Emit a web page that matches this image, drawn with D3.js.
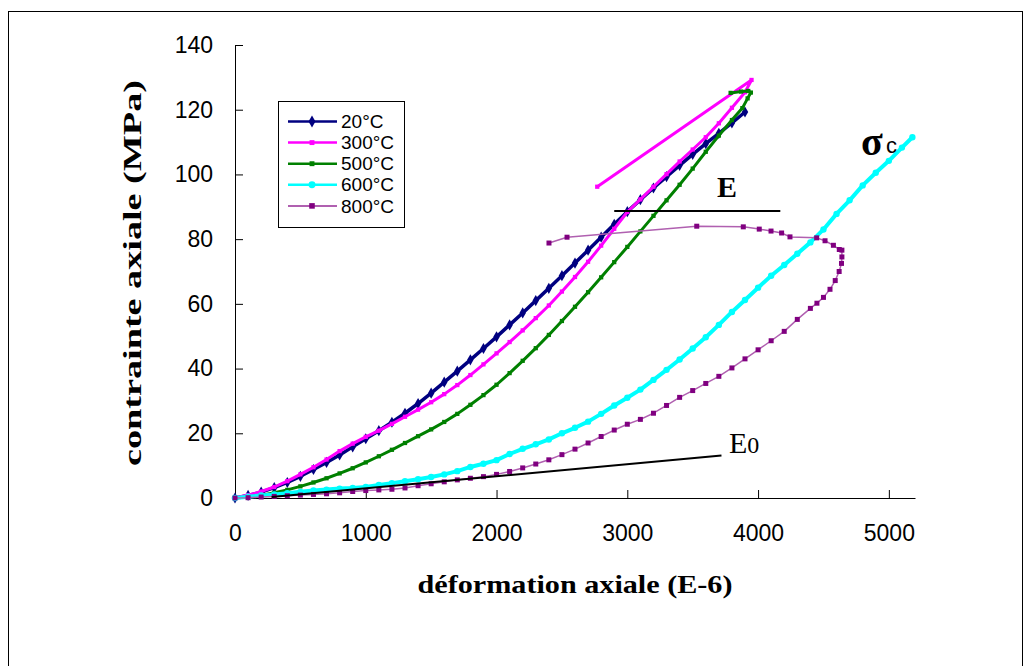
<!DOCTYPE html>
<html>
<head>
<meta http-equiv="Content-Type" content="text/html;charset=utf-8">
<script type="text/javascript" src="https://cdn.jsdelivr.net/npm/d3@7"></script>
<style>
body { margin: 0; background: #fff; }
</style>
</head>
<body>
<div id="chart"></div>
<script type="text/javascript">

// [strain (E-6), stress (MPa)]
var s20 = [[0,0],[100,0.8],[200,1.8],[300,3.2],[400,4.8],[500,6.7],[600,8.8],[700,11],[800,13.3],[900,15.8],
  [1000,18.3],[1100,20.8],[1200,23.4],[1300,26.2],[1400,29.2],[1500,32.4],[1600,35.8],[1700,39.2],[1800,42.7],[1900,46.2],
  [2000,49.8],[2100,53.5],[2200,57.2],[2300,61],[2400,64.8],[2500,68.7],[2600,72.6],[2700,76.6],[2800,80.6],[2900,84.6],
  [3000,88.5],[3100,92.2],[3200,95.8],[3300,99.3],[3400,102.8],[3500,106.2],[3600,109.5],[3700,112.7],[3800,115.9],[3900,119.3]];

var s300 = [[0,0],[100,0.9],[200,2],[300,3.4],[400,5.2],[500,7.3],[600,9.5],[700,11.9],[800,14.5],[900,16.8],
  [1000,18.9],[1100,20.8],[1200,22.9],[1300,25.1],[1400,27.3],[1500,29.6],[1600,32.1],[1700,34.9],[1800,38],[1900,41.3],
  [2000,44.7],[2100,48.2],[2200,51.8],[2300,55.6],[2400,59.5],[2500,63.8],[2600,68.3],[2700,73],[2800,78],[2900,83.2],
  [3000,88.4],[3100,92.3],[3200,96.2],[3300,100.1],[3400,104],[3500,107.7],[3600,111.5],[3700,115.8],[3800,120.6],[3900,125.4],
  [3950,129.2],[2770,96.2]];

var s500 = [[0,0],[100,0.3],[200,0.8],[300,1.6],[400,2.5],[500,3.6],[600,4.8],[700,6.1],[800,7.6],[900,9.2],
  [1000,11],[1100,12.9],[1200,14.9],[1300,17],[1400,19.1],[1500,21.2],[1600,23.5],[1700,26],[1800,28.8],[1900,31.8],
  [2000,35],[2100,38.6],[2200,42.4],[2300,46.3],[2400,50.4],[2500,54.7],[2600,59.1],[2700,63.6],[2800,68.2],[2900,72.9],
  [3000,77.6],[3100,82.4],[3200,87.2],[3300,92],[3400,96.8],[3500,101.8],[3600,107],[3700,112],[3800,116.8],[3880,120.5],
  [3920,123.5],[3945,125.3],[3925,125.8],[3870,125.6],[3790,125.2]];

var s600 = [[0,0],[100,0.4],[200,0.8],[300,1.1],[400,1.5],[500,1.9],[600,2.3],[700,2.6],[800,2.9],[900,3.1],
  [1000,3.4],[1100,4],[1200,4.6],[1300,5.2],[1400,5.8],[1500,6.5],[1600,7.3],[1700,8.3],[1800,9.6],[1900,10.6],
  [2000,11.7],[2100,13.6],[2200,15.2],[2300,16.6],[2400,18.1],[2500,20],[2600,21.7],[2700,23.6],[2800,26],[2900,28.6],
  [3000,31],[3100,33.5],[3200,36.5],[3300,39.6],[3400,42.8],[3500,46.2],[3600,49.7],[3700,53.5],[3800,57.5],[3900,61.2],
  [4000,65],[4100,68.7],[4200,72],[4300,75.5],[4400,79],[4500,83],[4600,87.8],[4700,92],[4800,96.6],[4900,100.5],
  [5000,104.2],[5100,108.3],[5180,111.5]];

var s800 = [[0,0],[100,0.1],[200,0.3],[300,0.5],[400,0.7],[500,0.9],[600,1.1],[700,1.3],[800,1.6],[900,2],
  [1000,2.3],[1100,2.5],[1200,2.7],[1300,3.1],[1400,3.8],[1500,4.4],[1600,5],[1700,5.6],[1800,6.1],[1900,6.6],
  [2000,7.3],[2100,8.2],[2200,9.3],[2300,10.5],[2400,11.8],[2500,13.4],[2600,15.1],[2700,17],[2800,19],[2900,21],
  [3000,22.8],[3100,24.3],[3200,26.2],[3300,28.6],[3400,31.1],[3500,33.2],[3600,35.4],[3700,37.6],[3800,40.2],[3900,43],
  [4000,45.8],[4100,48.6],[4200,51.5],[4300,55.2],[4400,58.6],[4450,60.2],[4500,62],[4550,64.5],[4590,67.2],[4620,70],
  [4638,72.5],[4641,74.5],[4641,76.6],[4621,76.8],[4576,78.1],[4512,79.5],[4448,80.4],[4244,80.7],[4180,81.9],[4099,82.5],
  [4009,83.1],[3887,83.8],[3531,84],[2539,80.6],[2401,78.8]];

var lineE = [[2900,88.7],[4170,88.7]];
var lineE0 = [[280,0.3],[3720,13.1]];

var seriesNames = ["20°C","300°C","500°C","600°C","800°C"];
var xTicks = [0,1000,2000,3000,4000,5000];
var yTicks = [0,20,40,60,80,100,120,140];

var W = 1031, H = 666;
var serif = "'Times New Roman', 'Liberation Serif', Times, serif";
var sans = "Arial, 'Liberation Sans', sans-serif";

var svg = d3.select("#chart").append("svg")
    .attr("width", W)
    .attr("height", H);

// outer frame
svg.append("rect")
    .attr("x", 8.5).attr("y", 11.5)
    .attr("width", 1014).attr("height", 700)
    .attr("fill", "none").attr("stroke", "#000").attr("stroke-width", 1);

var x = d3.scaleLinear().domain([0, 5200]).range([235, 915]);
var y = d3.scaleLinear().domain([0, 140]).range([498, 45]);

var xAxis = d3.axisBottom(x).tickValues(xTicks).tickFormat(d3.format("d"))
    .tickSizeInner(-8).tickSizeOuter(0).tickPadding(27);
var yAxis = d3.axisLeft(y).tickValues(yTicks).tickFormat(d3.format("d"))
    .tickSizeInner(-8).tickSizeOuter(0).tickPadding(22);

var gx = svg.append("g").attr("transform", "translate(0,498)").call(xAxis);
var gy = svg.append("g").attr("transform", "translate(235,0)").call(yAxis);
[gx, gy].forEach(function (g) {
  g.attr("font-family", sans).attr("font-size", 23);
  g.selectAll("path, line").attr("stroke", "#000");
  g.selectAll("text").attr("fill", "#000");
});

// axis titles
svg.append("text")
    .attr("x", 575).attr("y", 593)
    .attr("text-anchor", "middle")
    .attr("font-family", serif)
    .attr("font-weight", "bold").attr("font-size", 25)
    .attr("textLength", 315).attr("lengthAdjust", "spacingAndGlyphs")
    .text("déformation axiale (E-6)");

svg.append("text")
    .attr("transform", "translate(141,273) rotate(-90)")
    .attr("text-anchor", "middle")
    .attr("font-family", serif)
    .attr("font-weight", "bold").attr("font-size", 25)
    .attr("textLength", 386).attr("lengthAdjust", "spacingAndGlyphs")
    .text("contrainte axiale (MPa)");

var styles = [
  {data: s20,  line: "#000080", mark: "#000080", width: 3.5, sym: d3.symbolDiamond, size: 36},
  {data: s300, line: "#ff00ff", mark: "#ff00ff", width: 3,   sym: d3.symbolSquare,  size: 18},
  {data: s500, line: "#008000", mark: "#008000", width: 3,   sym: d3.symbolSquare,  size: 18},
  {data: s600, line: "#00ffff", mark: "#00ffff", width: 4,   sym: d3.symbolCircle,  size: 32},
  {data: s800, line: "#b060b0", mark: "#800080", width: 1.5, sym: d3.symbolSquare,  size: 25}
];

var line = d3.line()
    .x(function (d) { return x(d[0]); })
    .y(function (d) { return y(d[1]); });

styles.forEach(function (s) {
  var g = svg.append("g");
  g.append("path")
      .attr("d", line(s.data))
      .attr("fill", "none")
      .attr("stroke", s.line)
      .attr("stroke-width", s.width)
      .attr("stroke-linejoin", "round");
  g.selectAll("path.pt")
      .data(s.data)
      .enter().append("path")
      .attr("class", "pt")
      .attr("d", d3.symbol().type(s.sym).size(s.size))
      .attr("transform", function (d) { return "translate(" + x(d[0]) + "," + y(d[1]) + ")"; })
      .attr("fill", s.mark);
});

// E and E0 reference lines
[lineE, lineE0].forEach(function (l) {
  svg.append("path")
      .attr("d", line(l))
      .attr("fill", "none")
      .attr("stroke", "#000")
      .attr("stroke-width", 2);
});

svg.append("text")
    .attr("x", 727).attr("y", 197)
    .attr("text-anchor", "middle")
    .attr("font-family", serif)
    .attr("font-weight", "bold").attr("font-size", 30)
    .text("E");

var e0 = svg.append("text")
    .attr("x", 729).attr("y", 453)
    .attr("font-family", serif)
    .attr("font-size", 30);
e0.append("tspan").text("E");
e0.append("tspan").attr("font-size", 24).text("0");

svg.append("text")
    .attr("x", 861).attr("y", 155)
    .attr("font-family", serif)
    .attr("font-weight", "bold").attr("font-size", 40)
    .text("σ");
svg.append("text")
    .attr("x", 886).attr("y", 153)
    .attr("font-family", sans)
    .attr("font-size", 22)
    .text("c");

// legend
var leg = svg.append("g");
leg.append("rect")
    .attr("x", 278.5).attr("y", 101.5)
    .attr("width", 126).attr("height", 126)
    .attr("fill", "#fff").attr("stroke", "#000").attr("stroke-width", 1);

styles.forEach(function (s, i) {
  var ly = 121.5 + i * 21.1;
  leg.append("line")
      .attr("x1", 288).attr("x2", 337)
      .attr("y1", ly).attr("y2", ly)
      .attr("stroke", s.line).attr("stroke-width", i == 4 ? 2 : 2.5);
  leg.append("path")
      .attr("d", d3.symbol().type(s.sym).size(s.size + 6))
      .attr("transform", "translate(312," + ly + ")")
      .attr("fill", s.mark);
  leg.append("text")
      .attr("x", 341).attr("y", ly)
      .attr("dy", "0.35em")
      .attr("font-family", sans)
      .attr("font-size", 19)
      .text(seriesNames[i]);
});

</script>
</body>
</html>
